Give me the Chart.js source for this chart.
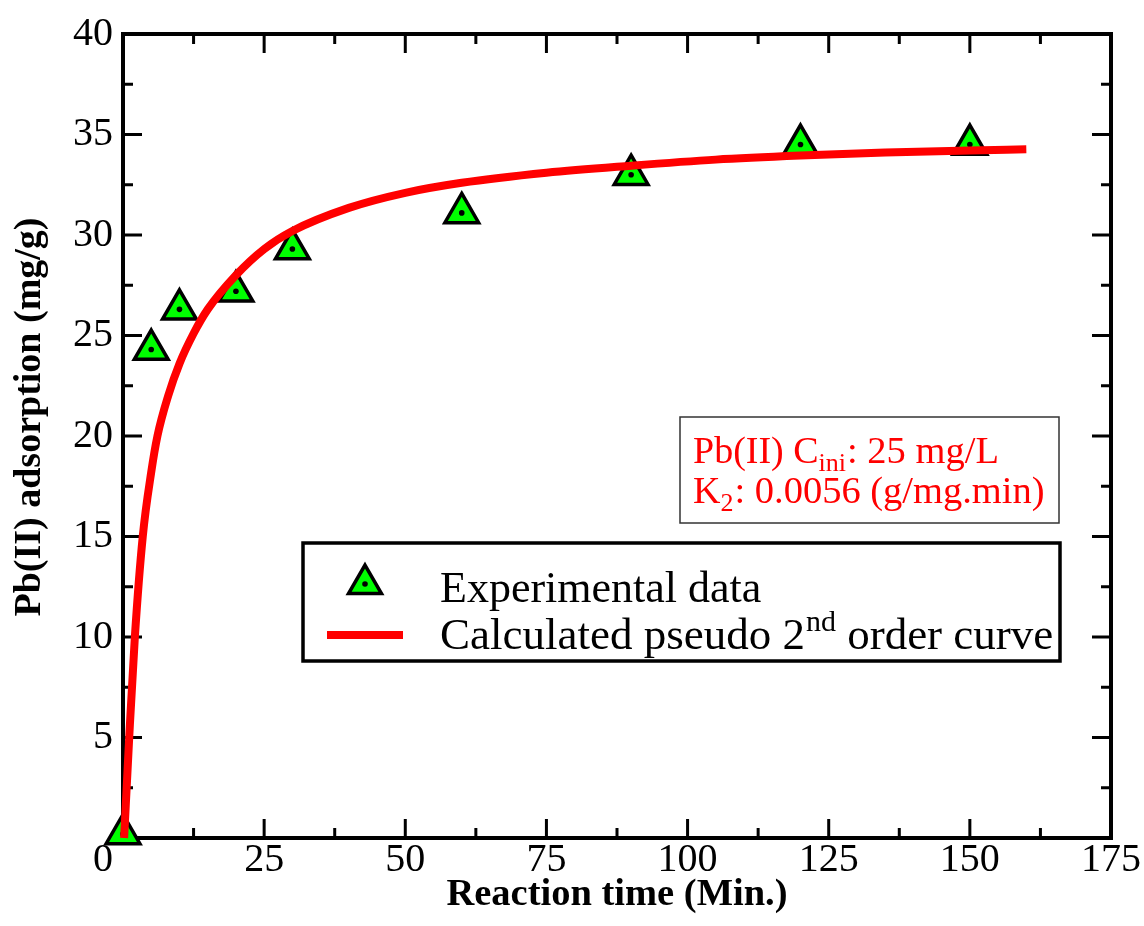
<!DOCTYPE html>
<html>
<head>
<meta charset="utf-8">
<script src="https://cdn.jsdelivr.net/npm/chart.js@4.4.1/dist/chart.umd.min.js"></script>
<style>
  html, body { margin: 0; padding: 0; background: #fff; }
  #wrap { width: 1144px; height: 926px; }
</style>
</head>
<body>
<div id="wrap"><canvas id="myChart"></canvas></div>
<script>
  // experimental points
  const timeMin = [0, 5, 10, 20, 30, 60, 90, 120, 150];
  const qExp = [0.2, 24.3, 26.3, 27.2, 29.3, 31.1, 33.0, 34.5, 34.5];

  // calculated pseudo 2nd order curve
  const curveT = [0.2, 1.1, 2.1, 3.5, 5, 6.1, 8, 10, 12.5, 15, 20, 25, 30, 40, 50, 60, 75, 90, 105, 120, 135, 150, 160];
  const curveQ = [0, 5, 10, 15, 18.2, 20, 22.0, 23.6, 25.1, 26.3, 28.0, 29.3, 30.2, 31.35, 32.1, 32.6, 33.1, 33.45, 33.75, 33.95, 34.1, 34.2, 34.26];

  const xMin = 0, xMax = 175, xStep = 25;
  const yMin = 0, yMax = 40, yStep = 5;

  const legendLabels = ['Experimental data', 'Calculated pseudo 2', 'nd', ' order curve'];
  const noteLines = [['Pb(II) C', 'ini', ': 25 mg/L'], ['K', '2', ': 0.0056 (g/mg.min)']];

  const serif = '"Liberation Serif", "Times New Roman", serif';
  Chart.defaults.font.family = serif;
  Chart.defaults.color = '#000';

  const expPts = timeMin.map((t, i) => ({ x: t, y: qExp[i] }));
  const curvePts = curveT.map((t, i) => ({ x: t, y: curveQ[i] }));

  function triangle(ctx, x, y, r) {
    ctx.beginPath();
    let rad = 0;
    for (let k = 0; k < 3; k++) {
      const px = x + Math.sin(rad) * r, py = y - Math.cos(rad) * r;
      if (k === 0) ctx.moveTo(px, py); else ctx.lineTo(px, py);
      rad += Math.PI * 2 / 3;
    }
    ctx.closePath();
  }

  // frame plus inward ticks on all four sides
  const frameTicks = {
    id: 'frameTicks',
    beforeDatasetsDraw(chart) {
      const ctx = chart.ctx, a = chart.chartArea;
      const xs = chart.scales.x, ys = chart.scales.y;
      ctx.save();
      ctx.strokeStyle = '#000';
      ctx.lineWidth = 3;
      ctx.beginPath();
      for (let v = xMin; v <= xMax + 0.01; v += xStep / 2) {
        const p = xs.getPixelForValue(v);
        const len = (Math.abs(v % xStep) < 0.01) ? 19 : 10;
        ctx.moveTo(p, a.bottom); ctx.lineTo(p, a.bottom - len);
        ctx.moveTo(p, a.top); ctx.lineTo(p, a.top + len);
      }
      for (let v = yMin; v <= yMax + 0.01; v += yStep / 2) {
        const p = ys.getPixelForValue(v);
        const len = (Math.abs(v % yStep) < 0.01) ? 19 : 10;
        ctx.moveTo(a.left, p); ctx.lineTo(a.left + len, p);
        ctx.moveTo(a.right, p); ctx.lineTo(a.right - len, p);
      }
      ctx.stroke();
      ctx.lineWidth = 4;
      ctx.strokeRect(a.left, a.top, a.right - a.left, a.bottom - a.top);
      ctx.restore();
    },
    afterDraw(chart) {
      const ctx = chart.ctx;
      ctx.save();
      // legend box
      ctx.strokeStyle = '#000';
      ctx.lineWidth = 3.5;
      ctx.strokeRect(303, 543, 757, 118);
      triangle(ctx, 365, 584, 19);
      ctx.fillStyle = '#00ff00';
      ctx.fill();
      ctx.lineWidth = 3.5;
      ctx.stroke();
      ctx.beginPath();
      ctx.arc(365, 584, 2.8, 0, Math.PI * 2);
      ctx.fillStyle = '#000';
      ctx.fill();
      ctx.strokeStyle = '#ff0000';
      ctx.lineWidth = 8;
      ctx.beginPath();
      ctx.moveTo(327, 635); ctx.lineTo(403, 635);
      ctx.stroke();

      ctx.fillStyle = '#000';
      ctx.textBaseline = 'alphabetic';
      ctx.textAlign = 'left';
      ctx.font = '44px ' + serif;
      ctx.fillText(legendLabels[0], 440, 602);
      let x = 440;
      ctx.font = '45px ' + serif;
      ctx.fillText(legendLabels[1], x, 649);
      x += ctx.measureText(legendLabels[1]).width + 1;
      ctx.font = '30px ' + serif;
      ctx.fillText(legendLabels[2], x, 631);
      x += ctx.measureText(legendLabels[2]).width;
      ctx.font = '45px ' + serif;
      ctx.fillText(legendLabels[3], x, 649);

      // note box
      ctx.strokeStyle = '#333';
      ctx.lineWidth = 1.5;
      ctx.strokeRect(680, 417, 379, 106);
      ctx.fillStyle = '#ff0000';
      const bases = [463, 503];
      noteLines.forEach((ln, i) => {
        let nx = 693;
        ctx.font = '38px ' + serif;
        ctx.fillText(ln[0], nx, bases[i]);
        nx += ctx.measureText(ln[0]).width;
        ctx.font = '26px ' + serif;
        ctx.fillText(ln[1], nx, bases[i] + 8);
        nx += ctx.measureText(ln[1]).width + 1;
        ctx.font = '38.5px ' + serif;
        ctx.fillText(ln[2], nx, bases[i]);
      });
      ctx.restore();
    }
  };

  var canvas = document.getElementById('myChart');
  var setup = {
    type: 'scatter',
    data: {
      datasets: [
        {
          label: 'Calculated pseudo 2nd order curve',
          data: curvePts,
          showLine: true,
          borderColor: '#ff0000',
          borderWidth: 8,
          pointRadius: 0,
          cubicInterpolationMode: 'monotone',
          clip: false,
          order: 0
        },
        {
          label: 'dots',
          data: expPts,
          pointStyle: 'circle',
          pointRadius: 2.8,
          backgroundColor: '#000',
          borderWidth: 0,
          clip: false,
          order: 1
        },
        {
          label: 'Experimental data',
          data: expPts,
          pointStyle: 'triangle',
          pointRadius: 19.5,
          backgroundColor: '#00ff00',
          borderColor: '#000',
          borderWidth: 3.5,
          clip: false,
          order: 2
        }
      ]
    },
    options: {
      responsive: true,
      maintainAspectRatio: false,
      animation: false,
      layout: { padding: { top: 30, right: 33, left: 0, bottom: 0 } },
      plugins: {
        legend: { display: false },
        tooltip: { enabled: false }
      },
      scales: {
        x: {
          type: 'linear',
          min: xMin, max: xMax,
          afterFit(scale) { scale.height = 88; },
          grid: { display: false, drawTicks: false },
          border: { display: false },
          ticks: {
            stepSize: xStep,
            padding: -2,
            font: { size: 40 },
            maxRotation: 0,
            callback: (v) => v === 0 ? '0\u2002\u2002' : String(v)
          },
          title: {
            display: true,
            text: 'Reaction time (Min.)',
            font: { size: 38.5, weight: 'bold' },
            padding: { top: 0, bottom: 8 }
          }
        },
        y: {
          type: 'linear',
          min: yMin, max: yMax,
          afterFit(scale) { scale.width = 123; },
          grid: { display: false, drawTicks: false },
          border: { display: false },
          ticks: {
            stepSize: yStep,
            padding: 10,
            font: { size: 40 },
            callback: (v) => v === 0 ? '' : String(v)
          },
          title: {
            display: true,
            text: '\u2003Pb(II) adsorption (mg/g)',
            font: { size: 38, weight: 'bold' },
            padding: { top: 7, bottom: 0 }
          }
        }
      }
    },
    plugins: [frameTicks]
  };
  chart = new Chart(canvas, setup);
</script>
</body>
</html>
